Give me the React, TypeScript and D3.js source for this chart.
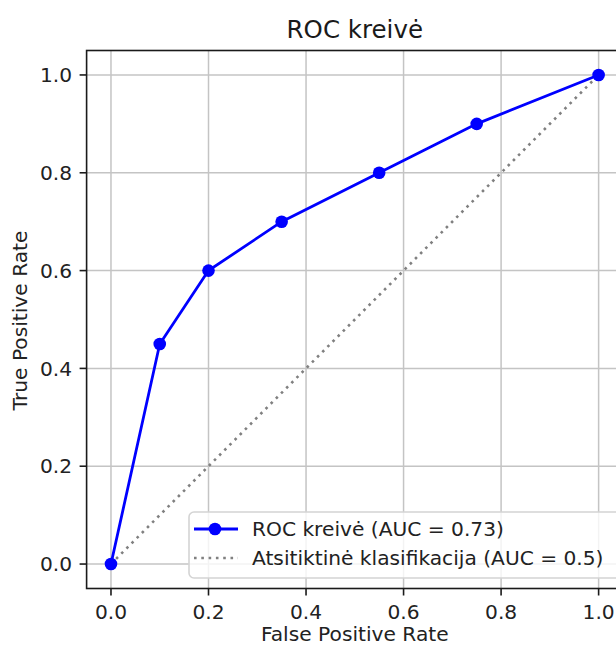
import React from "react";
import * as d3 from "d3";

const fpr = [0, 0.1, 0.2, 0.35, 0.55, 0.75, 1.0];
const tpr = [0, 0.45, 0.6, 0.7, 0.8, 0.9, 1.0];
const diagX = [0, 1];
const diagY = [0, 1];
const xTicks = [0, 0.2, 0.4, 0.6, 0.8, 1.0];
const yTicks = [0, 0.2, 0.4, 0.6, 0.8, 1.0];
const title = "ROC kreivė";
const xLabel = "False Positive Rate";
const yLabel = "True Positive Rate";
const rocLabel = "ROC kreivė (AUC = 0.73)";
const randLabel = "Atsitiktinė klasifikacija (AUC = 0.5)";

const W = 616;
const H = 646;
const FONT = "'DejaVu Sans', sans-serif";
const FS = 20.2;

export default function App() {
  const left = 86.6, right = 623, top = 50.5, bottom = 588.5;
  const x = d3.scaleLinear().domain([-0.05, 1.05]).range([left, right]);
  const y = d3.scaleLinear().domain([-0.05, 1.05]).range([bottom, top]);
  const pts = fpr.map((v, i) => [v, tpr[i]] as [number, number]);
  const line = d3.line<[number, number]>().x(d => x(d[0])).y(d => y(d[1]));
  const diag = diagX.map((v, i) => [v, diagY[i]] as [number, number]);
  const tickFmt = d3.format(".1f");
  const lg = { x: 189, y: 512, w: 440, h: 66 };
  const dots = "2.6,4.7";
  return (
    <svg width={W} height={H} style={{ position: "absolute", left: 0, top: 0, background: "#fff" }} fontFamily={FONT}>
      <defs>
        <clipPath id="plot">
          <rect x={left} y={top} width={right - left} height={bottom - top} />
        </clipPath>
      </defs>
      <rect x={0} y={0} width={W} height={H} fill="#fff" />
      {xTicks.map(t => (
        <line key={"gx" + t} x1={x(t)} x2={x(t)} y1={top} y2={bottom} stroke="#c4c4c4" strokeWidth={1.5} />
      ))}
      {yTicks.map(t => (
        <line key={"gy" + t} x1={left} x2={right} y1={y(t)} y2={y(t)} stroke="#c4c4c4" strokeWidth={1.5} />
      ))}
      <g clipPath="url(#plot)">
        <path d={line(diag) || ""} fill="none" stroke="#808080" strokeWidth={2.6} strokeDasharray={dots} />
        <path d={line(pts) || ""} fill="none" stroke="#0000ff" strokeWidth={2.8} />
        {pts.map((p, i) => (
          <circle key={i} cx={x(p[0])} cy={y(p[1])} r={6.3} fill="#0000ff" />
        ))}
      </g>
      <rect x={left} y={top} width={right - left} height={bottom - top} fill="none" stroke="#1a1a1a" strokeWidth={1.6} />
      {xTicks.map(t => (
        <g key={"tx" + t}>
          <line x1={x(t)} x2={x(t)} y1={bottom} y2={bottom + 7} stroke="#1a1a1a" strokeWidth={1.6} />
          <text x={x(t)} y={bottom + 30} textAnchor="middle" fontSize={FS} fill="#222">{tickFmt(t)}</text>
        </g>
      ))}
      {yTicks.map(t => (
        <g key={"ty" + t}>
          <line x1={left - 7} x2={left} y1={y(t)} y2={y(t)} stroke="#1a1a1a" strokeWidth={1.6} />
          <text x={left - 14.5} y={y(t)} dy="0.36em" textAnchor="end" fontSize={FS} fill="#222">{tickFmt(t)}</text>
        </g>
      ))}
      <text x={(left + right) / 2} y={38} textAnchor="middle" fontSize={24.5} fill="#1a1a1a">{title}</text>
      <text x={(left + right) / 2} y={641} textAnchor="middle" fontSize={FS} fill="#222">{xLabel}</text>
      <text transform={`translate(27,${(top + bottom) / 2 + 1}) rotate(-90)`} textAnchor="middle" fontSize={FS} fill="#222">{yLabel}</text>
      <g>
        <rect x={lg.x} y={lg.y} width={lg.w} height={lg.h} rx={5} fill="#fff" fillOpacity={0.8} stroke="#d4d4d4" strokeWidth={1.6} />
        <line x1={lg.x + 5} x2={lg.x + 49} y1={lg.y + 17} y2={lg.y + 17} stroke="#0000ff" strokeWidth={2.8} />
        <circle cx={lg.x + 26} cy={lg.y + 17} r={6.3} fill="#0000ff" />
        <text x={lg.x + 63} y={lg.y + 17} dy="0.36em" fontSize={FS} fill="#222">{rocLabel}</text>
        <line x1={lg.x + 5} x2={lg.x + 49} y1={lg.y + 46} y2={lg.y + 46} stroke="#808080" strokeWidth={2.6} strokeDasharray={dots} />
        <text x={lg.x + 63} y={lg.y + 46} dy="0.36em" fontSize={FS} fill="#222">{randLabel}</text>
      </g>
    </svg>
  );
}
